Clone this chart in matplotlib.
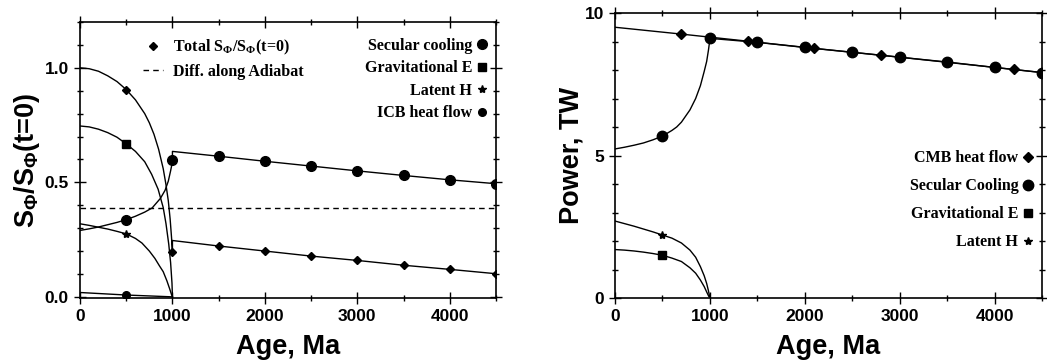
import matplotlib
matplotlib.use('Agg')
import matplotlib.pyplot as plt
from matplotlib.ticker import MultipleLocator

plt.rcParams['mathtext.fontset'] = 'custom'
plt.rcParams['mathtext.rm'] = 'Liberation Serif:bold'
plt.rcParams['mathtext.sf'] = 'Liberation Sans:bold'

SANS = 'Liberation Sans'
SERIF = 'Liberation Serif'

# ---------- left panel: entropy terms, S / S(t=0)
age_total = [0, 100, 200, 300, 400, 500, 600, 700, 750, 800, 850, 900, 930, 955, 975, 990, 1000,
             1000, 1500, 2000, 2500, 3000, 3500, 4000, 4500]
total = [1.0, 0.996, 0.985, 0.965, 0.94, 0.905, 0.86, 0.80, 0.76, 0.71, 0.645, 0.56, 0.49, 0.42, 0.34, 0.26, 0.198,
         0.246, 0.222, 0.200, 0.178, 0.159, 0.138, 0.120, 0.101]

age_secular = [0, 100, 200, 300, 400, 500, 600, 700, 780, 870, 920, 955, 980, 995, 1000,
               1000, 1500, 2000, 2500, 3000, 3500, 4000, 4500]
secular = [0.290, 0.297, 0.305, 0.315, 0.325, 0.337, 0.352, 0.370, 0.388, 0.43, 0.465, 0.505, 0.55, 0.58, 0.598,
           0.635, 0.614, 0.592, 0.571, 0.550, 0.530, 0.511, 0.494]

age_grav = [0, 100, 200, 300, 400, 500, 600, 700, 775, 845, 900, 930, 960, 980, 995, 1000]
grav = [0.746, 0.742, 0.732, 0.717, 0.697, 0.668, 0.635, 0.59, 0.535, 0.47, 0.39, 0.32, 0.23, 0.15, 0.06, 0.0]

age_latent = [0, 100, 200, 300, 400, 500, 600, 670, 750, 810, 860, 900, 940, 970, 990, 1000]
latent = [0.319, 0.312, 0.304, 0.296, 0.286, 0.275, 0.255, 0.235, 0.20, 0.168, 0.135, 0.11, 0.07, 0.035, 0.01, 0.0]

age_icb = [0, 500, 1000]
icb = [0.019, 0.008, 0.0]

adiabat = 0.388

# ---------- right panel: power, TW
age_cmb = [0, 700, 1400, 2100, 2800, 3500, 4200, 4500]
cmb = [9.50, 9.26, 9.01, 8.76, 8.52, 8.27, 8.02, 7.91]

age_sec_tw = [0, 100, 200, 300, 400, 500, 600, 650, 700, 790, 850, 900, 940, 966, 985, 995, 1000,
              1500, 2000, 2500, 3000, 3500, 4000, 4500]
sec_tw = [5.23, 5.29, 5.36, 5.44, 5.55, 5.68, 5.88, 6.0, 6.17, 6.6, 7.0, 7.45, 7.95, 8.3, 8.7, 8.95, 9.11,
          8.97, 8.79, 8.62, 8.45, 8.28, 8.09, 7.91]

age_lat_tw = [0, 100, 200, 300, 400, 500, 600, 700, 790, 850, 900, 940, 966, 985, 1000]
lat_tw = [2.70, 2.61, 2.52, 2.42, 2.32, 2.21, 2.10, 1.93, 1.68, 1.43, 1.10, 0.78, 0.51, 0.25, 0.0]

age_grav_tw = [0, 100, 200, 300, 400, 500, 600, 700, 790, 850, 900, 940, 965, 985, 1000]
grav_tw = [1.70, 1.68, 1.65, 1.61, 1.56, 1.50, 1.40, 1.28, 1.06, 0.87, 0.63, 0.40, 0.22, 0.08, 0.0]


def marks(ages, every, first, last=4500):
    idx, seen = [], set()
    for i, a in enumerate(ages):
        if first <= a <= last and (a - first) % every == 0 and a not in seen:
            idx.append(i)
            seen.add(a)
    return idx


def curve(ax, ages, vals, marker, ms, label, every=500, first=500, last=4500):
    ax.plot(ages, vals, color='k', lw=1.0)
    ax.plot(ages, vals, ls='none', marker=marker, ms=ms, color='k',
            markevery=marks(ages, every, first, last), label=label)


def style(ax):
    ax.set_xlim(0, 4500)
    ax.xaxis.set_major_locator(MultipleLocator(1000))
    ax.xaxis.set_minor_locator(MultipleLocator(500))
    ax.tick_params(which='both', direction='inout', top=True, right=True, width=1.0)
    ax.tick_params(which='major', length=8, pad=4)
    ax.tick_params(which='minor', length=5)
    for s in ax.spines.values():
        s.set_linewidth(1.2)
    for t in ax.get_xticklabels() + ax.get_yticklabels():
        t.set_fontfamily(SANS)
        t.set_fontweight('bold')
        t.set_fontsize(12.5)
    ax.set_xlabel('Age, Ma', fontfamily=SANS, fontweight='bold', fontsize=19.5, labelpad=7)


def right_align(leg):
    for col in leg._legend_handle_box.get_children():
        col.align = 'right'


fig = plt.figure(figsize=(10.47, 3.62), dpi=100)
ax1 = fig.add_axes([80 / 1047, 64 / 362, 416 / 1047, 276 / 362])
ax2 = fig.add_axes([615 / 1047, 64 / 362, 427 / 1047, 285 / 362])

# left panel
curve(ax1, age_secular, secular, 'o', 7, 'Secular cooling')
curve(ax1, age_grav, grav, 's', 5.5, 'Gravitational E', last=500)
curve(ax1, age_latent, latent, '*', 6, 'Latent H', last=500)
curve(ax1, age_icb, icb, 'o', 5.5, 'ICB heat flow', last=500)
curve(ax1, age_total, total, 'D', 4.5, r'Total S$_\mathrm{\Phi}$/S$_\mathrm{\Phi}$(t=0)')
ax1.axhline(adiabat, color='k', lw=1.0, ls=(0, (4, 3)), label='Diff. along Adiabat')

ax1.set_ylim(-0.005, 1.2)
ax1.yaxis.set_major_locator(MultipleLocator(0.5))
ax1.yaxis.set_minor_locator(MultipleLocator(0.1))
style(ax1)
ax1.set_ylabel(r'S$_\mathsf{\Phi}$/S$_\mathsf{\Phi}$(t=0)', fontfamily=SANS, fontweight='bold',
               fontsize=19.5, labelpad=2)

h, l = ax1.get_legend_handles_labels()
leg_font = {'family': SERIF, 'weight': 'bold', 'size': 11.5}
leg_a = ax1.legend([h[4], h[5]], [l[4], l[5]], loc='upper left', bbox_to_anchor=(0.135, 0.965),
                   frameon=False, prop=leg_font, handlelength=1.3, handletextpad=0.6,
                   labelspacing=0.4, borderaxespad=0)
ax1.add_artist(leg_a)
leg_b = ax1.legend(h[:4], l[:4], loc='upper right', bbox_to_anchor=(0.995, 0.965), markerfirst=False,
                   frameon=False, prop=leg_font, handlelength=0.7, handletextpad=0.25,
                   labelspacing=0.4, borderaxespad=0)
right_align(leg_b)

# right panel
ax2.plot(age_cmb, cmb, color='k', lw=1.0)
ax2.plot(age_cmb, cmb, ls='none', marker='D', ms=5, color='k',
         markevery=marks(age_cmb, 700, 700), label='CMB heat flow')
curve(ax2, age_sec_tw, sec_tw, 'o', 7.5, 'Secular Cooling')
curve(ax2, age_grav_tw, grav_tw, 's', 6, 'Gravitational E', last=500)
curve(ax2, age_lat_tw, lat_tw, '*', 6, 'Latent H', last=500)

ax2.set_ylim(0, 10)
ax2.yaxis.set_major_locator(MultipleLocator(5))
ax2.yaxis.set_minor_locator(MultipleLocator(1))
style(ax2)
ax2.set_ylabel('Power, TW', fontfamily=SANS, fontweight='bold', fontsize=19.5, labelpad=0)

leg_c = ax2.legend(loc='lower right', bbox_to_anchor=(0.995, 0.145), markerfirst=False, frameon=False,
                   prop={'family': SERIF, 'weight': 'bold', 'size': 11.5}, handlelength=0.7,
                   handletextpad=0.25, labelspacing=0.75, borderaxespad=0)
right_align(leg_c)

fig.savefig('out.png', dpi=100)
